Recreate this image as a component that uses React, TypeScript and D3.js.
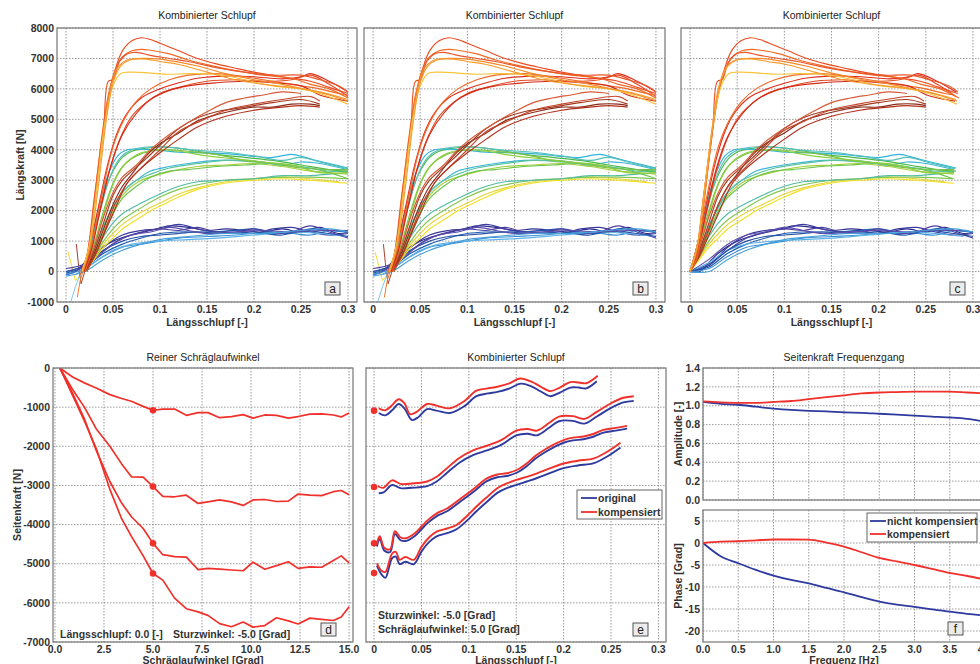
import React, { useEffect, useRef } from "react";
import * as d3 from "d3";

type Pt = [number, number];

// ---- tick labels
const slipTicks = [0, 0.05, 0.1, 0.15, 0.2, 0.25, 0.3];
const longForceTicks = [-1000, 0, 1000, 2000, 3000, 4000, 5000, 6000, 7000, 8000];
const angleTicks = [0, 2.5, 5, 7.5, 10, 12.5, 15];
const sideForceTicks = [-7000, -6000, -5000, -4000, -3000, -2000, -1000, 0];
const freqTicks = [0, 0.5, 1, 1.5, 2, 2.5, 3, 3.5, 4];
const ampTicks = [0, 0.2, 0.4, 0.6, 0.8, 1.0, 1.2, 1.4];
const phaseTicks = [-20, -15, -10, -5, 0, 5];

// ---- top row: Längskraft over Längsschlupf, runs grouped by load level
const peakColors = ["#ec4b22", "#f06a24", "#e9562a", "#f38a2a", "#f7c43c", "#f49d2e"];
const peakCurves: Pt[][] = [
  [[0.016, 0], [0.022, 500], [0.03, 2400], [0.038, 4300], [0.045, 5700], [0.052, 6600], [0.06, 7250], [0.07, 7580], [0.08, 7680], [0.09, 7620], [0.1, 7500], [0.12, 7250], [0.14, 7000], [0.16, 6820], [0.18, 6680], [0.2, 6550], [0.22, 6450], [0.24, 6350], [0.26, 6250], [0.28, 6050], [0.3, 5850]],
  [[0.015, -100], [0.022, 400], [0.03, 2300], [0.038, 4400], [0.045, 5800], [0.052, 6600], [0.06, 7050], [0.07, 7250], [0.08, 7300], [0.09, 7270], [0.11, 7150], [0.13, 6950], [0.15, 6800], [0.18, 6600], [0.21, 6450], [0.24, 6350], [0.26, 6150], [0.28, 6000], [0.3, 5700]],
  [[0.016, 0], [0.023, 600], [0.03, 2200], [0.04, 4700], [0.045, 6250], [0.05, 6300], [0.057, 6900], [0.065, 7150], [0.075, 7200], [0.09, 7100], [0.11, 7000], [0.13, 6900], [0.16, 6700], [0.19, 6550], [0.22, 6450], [0.25, 6450], [0.27, 6300], [0.29, 6100], [0.3, 5900]],
  [[0.017, 0], [0.024, 700], [0.032, 2600], [0.04, 4600], [0.047, 6000], [0.055, 6700], [0.065, 6950], [0.08, 7000], [0.1, 6980], [0.12, 6880], [0.14, 6750], [0.17, 6500], [0.2, 6300], [0.23, 6150], [0.26, 5950], [0.28, 5800], [0.3, 5600]],
  [[0.017, 0], [0.025, 900], [0.033, 2800], [0.042, 5000], [0.05, 6100], [0.058, 6500], [0.07, 6550], [0.09, 6520], [0.11, 6480], [0.13, 6500], [0.16, 6480], [0.19, 6300], [0.22, 6100], [0.25, 6000], [0.27, 5850], [0.3, 5500]],
  [[0.018, 0], [0.026, 900], [0.034, 2700], [0.043, 5000], [0.05, 6200], [0.058, 6750], [0.068, 6950], [0.085, 6980], [0.1, 6900], [0.12, 6800], [0.15, 6550], [0.18, 6300], [0.21, 6150], [0.24, 6050], [0.27, 5900], [0.3, 5650]],
];

const plateauColors = ["#e02d1c", "#e44a22", "#f06a2a", "#d42a18"];
const plateauCurves: Pt[][] = [
  [[0.018, 0], [0.025, 800], [0.035, 2200], [0.045, 3600], [0.055, 4600], [0.065, 5200], [0.08, 5700], [0.1, 6000], [0.12, 6200], [0.14, 6350], [0.17, 6420], [0.2, 6400], [0.23, 6330], [0.25, 6400], [0.26, 6500], [0.28, 6250], [0.3, 5900]],
  [[0.018, 0], [0.026, 700], [0.036, 2000], [0.046, 3300], [0.058, 4400], [0.07, 5100], [0.085, 5550], [0.1, 5850], [0.12, 6050], [0.15, 6250], [0.18, 6300], [0.21, 6250], [0.24, 6300], [0.26, 6450], [0.28, 6150], [0.3, 5750]],
  [[0.02, 0], [0.028, 900], [0.038, 2500], [0.05, 4100], [0.062, 5000], [0.075, 5600], [0.09, 6000], [0.11, 6300], [0.13, 6450], [0.16, 6500], [0.19, 6400], [0.22, 6250], [0.25, 6100], [0.27, 6000], [0.29, 5850], [0.3, 5800]],
  [[0.019, 0], [0.027, 700], [0.037, 2100], [0.048, 3500], [0.06, 4500], [0.075, 5200], [0.09, 5650], [0.11, 5950], [0.13, 6100], [0.16, 6200], [0.19, 6250], [0.22, 6200], [0.25, 6100], [0.27, 5800], [0.29, 5650], [0.3, 5600]],
];

const slowColors = ["#8a2a18", "#a23a1e", "#c4452a", "#b0301c", "#d85a38"];
const slowCurves: Pt[][] = [
  [[0.02, 0], [0.03, 600], [0.04, 1400], [0.05, 2200], [0.06, 2800], [0.07, 3200], [0.08, 3600], [0.09, 3950], [0.1, 4200], [0.12, 4550], [0.14, 4950], [0.16, 5150], [0.18, 5300], [0.2, 5400], [0.22, 5400], [0.24, 5500], [0.26, 5500], [0.27, 5450]],
  [[0.02, 0], [0.03, 700], [0.04, 1600], [0.05, 2500], [0.06, 3000], [0.07, 3300], [0.085, 3700], [0.1, 4150], [0.12, 4700], [0.14, 5050], [0.16, 5250], [0.18, 5350], [0.2, 5450], [0.22, 5550], [0.25, 5650], [0.27, 5500]],
  [[0.022, 0], [0.032, 600], [0.042, 1400], [0.052, 2200], [0.065, 2900], [0.08, 3400], [0.1, 4000], [0.12, 4600], [0.14, 4900], [0.17, 5300], [0.2, 5500], [0.23, 5650], [0.26, 5750], [0.27, 5600]],
  [[0.02, 0], [0.03, 500], [0.04, 1200], [0.05, 1900], [0.065, 2900], [0.08, 3400], [0.1, 3900], [0.12, 4350], [0.14, 4750], [0.17, 5100], [0.2, 5300], [0.23, 5400], [0.25, 5450], [0.27, 5400]],
  [[0.02, 0], [0.03, 800], [0.04, 1800], [0.05, 2600], [0.06, 3100], [0.075, 3500], [0.09, 4000], [0.11, 4500], [0.13, 4900], [0.15, 5250], [0.17, 5550], [0.19, 5700], [0.21, 5800], [0.23, 5900], [0.25, 5850]],
];

const greenColors = ["#4db848", "#2fb4dc", "#79c143", "#55bfb8", "#8ccf3c"];
const greenCurves: Pt[][] = [
  [[0.018, 0], [0.025, 700], [0.033, 1700], [0.042, 2700], [0.05, 3300], [0.06, 3750], [0.07, 3950], [0.085, 4050], [0.1, 4100], [0.12, 4050], [0.14, 3950], [0.16, 3850], [0.19, 3750], [0.22, 3650], [0.25, 3500], [0.28, 3350], [0.3, 3300]],
  [[0.018, 0], [0.026, 900], [0.035, 2100], [0.045, 3200], [0.055, 3800], [0.065, 4000], [0.08, 4020], [0.1, 3980], [0.12, 3920], [0.15, 3900], [0.18, 3850], [0.2, 3780], [0.22, 3750], [0.24, 3850], [0.26, 3700], [0.28, 3550], [0.3, 3400]],
  [[0.02, 0], [0.03, 900], [0.04, 2000], [0.05, 2900], [0.06, 3450], [0.075, 3800], [0.09, 3950], [0.11, 4000], [0.13, 3950], [0.16, 3850], [0.19, 3650], [0.22, 3550], [0.25, 3400], [0.28, 3350], [0.3, 3350]],
  [[0.019, 0], [0.028, 1000], [0.038, 2200], [0.048, 3200], [0.058, 3750], [0.07, 4000], [0.09, 4100], [0.11, 4080], [0.14, 3980], [0.17, 3920], [0.2, 3800], [0.23, 3650], [0.25, 3750], [0.27, 3600], [0.3, 3380]],
  [[0.02, 0], [0.03, 800], [0.042, 2100], [0.052, 3000], [0.065, 3600], [0.08, 3900], [0.1, 4000], [0.12, 3950], [0.15, 3800], [0.18, 3700], [0.21, 3600], [0.24, 3500], [0.27, 3250], [0.3, 3250]],
];

const cyanColors = ["#a6d03a", "#3cb6d6", "#6cc44a", "#5cc2a0"];
const cyanCurves: Pt[][] = [
  [[0.02, 0], [0.03, 600], [0.04, 1300], [0.05, 2000], [0.06, 2500], [0.07, 2800], [0.08, 3000], [0.1, 3200], [0.12, 3350], [0.14, 3450], [0.17, 3500], [0.2, 3550], [0.23, 3450], [0.26, 3300], [0.28, 3250], [0.3, 3200]],
  [[0.02, 0], [0.03, 700], [0.04, 1500], [0.05, 2100], [0.06, 2600], [0.075, 3000], [0.09, 3300], [0.11, 3450], [0.13, 3550], [0.16, 3650], [0.19, 3650], [0.21, 3600], [0.23, 3500], [0.25, 3600], [0.27, 3550], [0.3, 3350]],
  [[0.021, 0], [0.032, 600], [0.045, 1600], [0.06, 2400], [0.075, 2800], [0.09, 3100], [0.11, 3300], [0.13, 3350], [0.16, 3450], [0.19, 3500], [0.22, 3550], [0.25, 3450], [0.28, 3250], [0.3, 3050]],
  [[0.02, 0], [0.03, 700], [0.04, 1500], [0.055, 2400], [0.07, 2900], [0.09, 3200], [0.11, 3400], [0.14, 3550], [0.17, 3650], [0.2, 3600], [0.23, 3500], [0.26, 3400], [0.28, 3300], [0.3, 3300]],
];

const yellowColors = ["#f2e024", "#e6d43a", "#80c74e", "#52bca4"];
const yellowCurves: Pt[][] = [
  [[0.02, 0], [0.03, 400], [0.04, 800], [0.05, 1100], [0.06, 1400], [0.07, 1600], [0.08, 1800], [0.09, 2000], [0.1, 2150], [0.12, 2450], [0.14, 2700], [0.16, 2850], [0.18, 2950], [0.2, 3000], [0.23, 3050], [0.26, 3000], [0.28, 2950], [0.3, 2900]],
  [[0.02, 0], [0.03, 450], [0.04, 900], [0.05, 1250], [0.06, 1550], [0.08, 1950], [0.1, 2250], [0.12, 2550], [0.14, 2750], [0.17, 2950], [0.2, 3050], [0.23, 3100], [0.26, 3050], [0.29, 2950]],
  [[0.02, 0], [0.03, 500], [0.04, 1000], [0.05, 1400], [0.06, 1700], [0.08, 2100], [0.1, 2450], [0.12, 2700], [0.14, 2850], [0.17, 3000], [0.2, 3050], [0.23, 3100], [0.26, 3100], [0.3, 3050]],
  [[0.02, 0], [0.03, 600], [0.04, 1150], [0.05, 1600], [0.06, 1900], [0.08, 2250], [0.1, 2550], [0.12, 2800], [0.14, 2950], [0.17, 3000], [0.2, 3050], [0.23, 3150], [0.26, 3150], [0.28, 3200], [0.3, 3250]],
];

const blueColors = ["#2a2c8c", "#3b3a9e", "#1f5cb0", "#4d3fa0", "#3b8fd2", "#5ab2e8", "#2450a6", "#5c4cab", "#47a0d8"];
const blueCurves: Pt[][] = [
  [[0, -100], [0.01, 0], [0.02, 300], [0.03, 600], [0.05, 1000], [0.07, 1200], [0.09, 1350], [0.11, 1500], [0.13, 1450], [0.15, 1350], [0.17, 1400], [0.19, 1350], [0.21, 1300], [0.23, 1400], [0.25, 1300], [0.27, 1450], [0.29, 1250], [0.3, 1300]],
  [[0, 0], [0.02, 200], [0.04, 800], [0.06, 1200], [0.08, 1350], [0.1, 1400], [0.12, 1550], [0.14, 1400], [0.16, 1300], [0.18, 1350], [0.2, 1250], [0.22, 1400], [0.24, 1450], [0.26, 1300], [0.28, 1200], [0.3, 1250]],
  [[0, -50], [0.02, 150], [0.04, 600], [0.06, 900], [0.08, 1100], [0.1, 1250], [0.12, 1300], [0.15, 1300], [0.18, 1350], [0.2, 1400], [0.22, 1300], [0.24, 1250], [0.26, 1400], [0.28, 1350], [0.3, 1300]],
  [[0, 100], [0.02, 250], [0.04, 700], [0.06, 1100], [0.08, 1300], [0.1, 1400], [0.12, 1350], [0.14, 1450], [0.16, 1300], [0.18, 1300], [0.2, 1400], [0.22, 1250], [0.24, 1300], [0.26, 1500], [0.28, 1300], [0.3, 1100]],
  [[0, -100], [0.02, 100], [0.04, 500], [0.06, 800], [0.08, 900], [0.1, 1000], [0.12, 1100], [0.15, 1150], [0.18, 1200], [0.2, 1250], [0.23, 1300], [0.26, 1200], [0.28, 1350], [0.3, 1300]],
  [[0.01, -100], [0.03, 300], [0.05, 700], [0.07, 900], [0.1, 1000], [0.13, 1050], [0.16, 1100], [0.2, 1200], [0.24, 1300], [0.27, 1250], [0.3, 1150]],
  [[0, 0], [0.02, 200], [0.04, 700], [0.06, 1000], [0.08, 1150], [0.1, 1200], [0.12, 1250], [0.14, 1300], [0.17, 1250], [0.2, 1300], [0.23, 1200], [0.25, 1350], [0.28, 1250], [0.3, 1150]],
  [[0.01, 0], [0.03, 400], [0.05, 900], [0.07, 1200], [0.09, 1300], [0.11, 1450], [0.13, 1350], [0.15, 1250], [0.18, 1300], [0.21, 1350], [0.24, 1300], [0.27, 1350], [0.3, 1350]],
  [[0, -150], [0.02, 0], [0.04, 400], [0.06, 700], [0.08, 900], [0.1, 1050], [0.13, 1150], [0.17, 1250], [0.21, 1250], [0.25, 1350], [0.28, 1400], [0.3, 1300]],
];

// stray start-up traces near the origin (only in a and b)
const noiseColors = ["#f2dc2a", "#7cc8ec", "#a8402a", "#f07a2a"];
const noiseCurves: Pt[][] = [
  [[0.002, 650], [0.006, 200], [0.01, -300], [0.014, -150]],
  [[0.005, -1000], [0.01, -500], [0.015, -100], [0.02, 100]],
  [[0.011, 900], [0.013, 300], [0.016, -400], [0.02, 0]],
  [[0.012, -850], [0.015, -300], [0.019, 100]],
];

// ---- d: Seitenkraft over Schräglaufwinkel
const slipAngles = [0.25, 0.9, 1.5, 2.1, 2.8, 3.4, 3.9, 4.5, 5.0, 5.5, 6.1, 6.7, 7.3, 7.8, 8.4, 9.0, 9.6, 10.1, 10.7, 11.3, 11.9, 12.4, 13.0, 13.6, 14.2, 14.6, 15.0];
const sideForce1 = [0, -230, -380, -510, -680, -780, -850, -980, -1080, -1050, -1050, -1210, -1140, -1140, -1270, -1240, -1190, -1280, -1200, -1210, -1280, -1240, -1180, -1170, -1200, -1250, -1150];
const sideForce2 = [0, -550, -1000, -1550, -2000, -2450, -2780, -2790, -3030, -3280, -3290, -3250, -3460, -3420, -3370, -3420, -3510, -3370, -3360, -3410, -3400, -3220, -3250, -3260, -3160, -3130, -3240];
const sideForce3 = [0, -650, -1300, -2100, -2900, -3450, -3800, -4100, -4480, -4770, -4820, -4830, -5150, -5120, -5140, -5160, -5180, -4960, -5140, -5050, -4950, -5120, -5080, -5090, -4920, -4800, -4980];
const sideForce4 = [0, -700, -1350, -2050, -3100, -3850, -4300, -4800, -5250, -5420, -5880, -6150, -6230, -6320, -6530, -6610, -6490, -6620, -6580, -6380, -6460, -6540, -6390, -6420, -6450, -6360, -6100];
const markedAngle = 5.0;

// ---- e: combined slip at 5° slip angle
const compensatedRuns: Pt[][] = [
  [[0.005, -1030], [0.012, -1080], [0.019, -950], [0.026, -800], [0.032, -900], [0.038, -1180], [0.045, -1120], [0.056, -920], [0.066, -960], [0.08, -1030], [0.095, -850], [0.108, -580], [0.12, -520], [0.13, -480], [0.142, -400], [0.154, -270], [0.166, -350], [0.176, -480], [0.186, -590], [0.196, -500], [0.207, -360], [0.216, -370], [0.224, -390], [0.236, -200]],
  [[0.004, -3020], [0.01, -3060], [0.019, -2870], [0.028, -2960], [0.04, -2950], [0.056, -2900], [0.066, -2780], [0.075, -2600], [0.09, -2300], [0.105, -2100], [0.12, -1980], [0.135, -1830], [0.15, -1600], [0.162, -1560], [0.172, -1600], [0.185, -1400], [0.195, -1240], [0.21, -1230], [0.222, -1300], [0.235, -1120], [0.25, -900], [0.263, -760], [0.274, -720]],
  [[0.003, -4490], [0.006, -4300], [0.011, -4600], [0.017, -4630], [0.022, -4170], [0.028, -4330], [0.033, -4350], [0.043, -4220], [0.05, -4050], [0.057, -3880], [0.067, -3700], [0.077, -3590], [0.094, -3290], [0.107, -3050], [0.119, -2820], [0.13, -2720], [0.14, -2690], [0.151, -2600], [0.161, -2440], [0.17, -2250], [0.179, -2100], [0.19, -1950], [0.2, -1840], [0.21, -1780], [0.221, -1750], [0.232, -1680], [0.242, -1580], [0.255, -1530], [0.267, -1480]],
  [[0.003, -4990], [0.008, -5180], [0.012, -5210], [0.019, -4740], [0.023, -4700], [0.027, -4900], [0.033, -4830], [0.042, -4900], [0.05, -4570], [0.058, -4330], [0.066, -4180], [0.077, -4100], [0.087, -4010], [0.098, -3780], [0.108, -3540], [0.12, -3280], [0.13, -3070], [0.14, -2950], [0.15, -2860], [0.161, -2780], [0.172, -2690], [0.186, -2560], [0.2, -2440], [0.215, -2370], [0.232, -2310], [0.246, -2140], [0.26, -1910]],
];
const originalRuns: Pt[][] = [
  [[0.005, -1150], [0.012, -1210], [0.019, -1080], [0.026, -920], [0.032, -1030], [0.04, -1330], [0.047, -1250], [0.056, -1050], [0.066, -1090], [0.08, -1150], [0.095, -980], [0.108, -720], [0.12, -650], [0.13, -610], [0.142, -530], [0.155, -400], [0.166, -470], [0.176, -600], [0.186, -720], [0.196, -630], [0.207, -500], [0.216, -500], [0.224, -520], [0.235, -340]],
  [[0.005, -3200], [0.01, -3180], [0.019, -2990], [0.028, -3070], [0.04, -3060], [0.056, -3020], [0.066, -2900], [0.075, -2720], [0.09, -2420], [0.105, -2220], [0.12, -2100], [0.135, -1950], [0.15, -1720], [0.162, -1680], [0.172, -1720], [0.185, -1520], [0.195, -1360], [0.21, -1350], [0.222, -1420], [0.235, -1240], [0.25, -1020], [0.263, -880], [0.274, -840]],
  [[0.003, -4560], [0.006, -4370], [0.011, -4670], [0.017, -4700], [0.022, -4240], [0.028, -4400], [0.033, -4420], [0.043, -4290], [0.05, -4120], [0.057, -3950], [0.067, -3770], [0.077, -3660], [0.094, -3360], [0.107, -3120], [0.119, -2890], [0.13, -2790], [0.14, -2760], [0.151, -2670], [0.161, -2510], [0.17, -2320], [0.179, -2170], [0.19, -2020], [0.2, -1910], [0.21, -1850], [0.221, -1820], [0.232, -1750], [0.242, -1650], [0.255, -1600], [0.267, -1550]],
  [[0.003, -5050], [0.008, -5280], [0.012, -5360], [0.019, -4860], [0.023, -4820], [0.027, -5010], [0.033, -4950], [0.042, -5010], [0.05, -4690], [0.058, -4450], [0.066, -4300], [0.077, -4220], [0.087, -4120], [0.098, -3900], [0.108, -3660], [0.12, -3400], [0.13, -3190], [0.14, -3070], [0.151, -2980], [0.161, -2900], [0.172, -2810], [0.186, -2680], [0.2, -2560], [0.215, -2490], [0.232, -2430], [0.246, -2260], [0.26, -2030]],
];
const startForces = [-1090, -3040, -4480, -5240];

// ---- f: frequency response
const freqs = [0, 0.25, 0.5, 0.75, 1, 1.25, 1.5, 1.75, 2, 2.25, 2.5, 2.75, 3, 3.25, 3.5, 3.75, 4];
const ampCompensated = [1.045, 1.035, 1.03, 1.03, 1.04, 1.05, 1.07, 1.09, 1.11, 1.13, 1.14, 1.145, 1.15, 1.15, 1.15, 1.14, 1.13];
const ampOriginal = [1.04, 1.02, 1.01, 0.99, 0.97, 0.955, 0.945, 0.94, 0.93, 0.925, 0.915, 0.905, 0.895, 0.885, 0.875, 0.86, 0.83];
const phaseCompensated = [0, 0.3, 0.4, 0.6, 0.8, 0.8, 0.75, 0.1, -0.8, -2.1, -3.4, -4.2, -5.0, -5.9, -6.8, -7.5, -8.3];
const phaseOriginal = [0, -3.0, -4.6, -6.1, -7.4, -8.4, -9.2, -10.2, -11.2, -12.3, -13.3, -14.0, -14.5, -15.1, -15.6, -16.1, -16.5];

const FONT = "'Liberation Sans', Arial, Helvetica, sans-serif";
const RED = "#f0302a";
const BLUE = "#2e3a9e";

const slipFmt = (v: number) => String(+v.toFixed(2));
const oneDec = (v: number) => v.toFixed(1);
const plain = (v: number) => String(v);

const App = () => {
  const svgRef = useRef(null);

  useEffect(() => {
    const svg = d3.select(svgRef.current);
    svg.selectAll("*").remove();

    const makePanel = (s) => {
      const x = d3.scaleLinear().domain(s.xd).range([s.left, s.right]);
      const y = d3.scaleLinear().domain(s.yd).range([s.bottom, s.top]);
      const g = svg.append("g");
      g.append("clipPath").attr("id", `clip-${s.id}`)
        .append("rect")
        .attr("x", s.left).attr("y", s.top)
        .attr("width", s.right - s.left).attr("height", s.bottom - s.top);
      g.append("rect")
        .attr("x", s.left).attr("y", s.top)
        .attr("width", s.right - s.left).attr("height", s.bottom - s.top)
        .attr("fill", "#fff");
      const grid = g.append("g").attr("stroke", "#8e8e8e").attr("stroke-width", 0.9).attr("stroke-dasharray", "1.5,1.5");
      grid.selectAll(null).data(s.xt).join("line")
        .attr("x1", d => x(d)).attr("x2", d => x(d))
        .attr("y1", s.top).attr("y2", s.bottom);
      grid.selectAll(null).data(s.yt).join("line")
        .attr("x1", s.left).attr("x2", s.right)
        .attr("y1", d => y(d)).attr("y2", d => y(d));
      if (s.xf) {
        g.append("g").selectAll("text").data(s.xt).join("text")
          .attr("x", d => x(d)).attr("y", s.bottom + s.xOff)
          .attr("text-anchor", "middle")
          .attr("font-family", FONT).attr("font-size", 10.5).attr("font-weight", "bold").attr("fill", "#333")
          .text(d => s.xf(d));
      }
      if (s.yf) {
        g.append("g").selectAll("text").data(s.yt).join("text")
          .attr("x", s.left - 3).attr("y", d => y(d)).attr("dy", "0.36em")
          .attr("text-anchor", "end")
          .attr("font-family", FONT).attr("font-size", 10.5).attr("font-weight", "bold").attr("fill", "#333")
          .text(d => s.yf(d));
      }
      const plot = g.append("g").attr("clip-path", `url(#clip-${s.id})`);
      g.append("rect")
        .attr("x", s.left).attr("y", s.top)
        .attr("width", s.right - s.left).attr("height", s.bottom - s.top)
        .attr("fill", "none").attr("stroke", "#777").attr("stroke-width", 1.2);
      return { x, y, plot, g };
    };

    const text = (x, y, str, opts: any = {}) => {
      const t = svg.append("text")
        .attr("x", x).attr("y", y)
        .attr("font-family", FONT)
        .attr("font-size", opts.size || 10.5)
        .attr("font-weight", opts.weight || "normal")
        .attr("fill", opts.fill || "#222")
        .attr("text-anchor", opts.anchor || "start")
        .text(str);
      if (opts.rotate) t.attr("transform", `rotate(-90 ${x} ${y})`);
      return t;
    };

    const tag = (x, y, letter) => {
      svg.append("rect").attr("x", x).attr("y", y).attr("width", 15).attr("height", 13)
        .attr("fill", "#ececec").attr("stroke", "#555").attr("stroke-width", 1);
      text(x + 7.5, y + 10.5, letter, { size: 12, anchor: "middle", fill: "#222" });
    };

    const drawLine = (p, pts: Pt[], color: string, width: number, curve) => {
      const line = d3.line<Pt>().x(d => p.x(d[0])).y(d => p.y(d[1])).curve(curve);
      p.plot.append("path").datum(pts)
        .attr("d", line)
        .attr("fill", "none")
        .attr("stroke", color)
        .attr("stroke-width", width)
        .attr("stroke-linejoin", "round");
    };

    // ---------- top row
    const groups: [Pt[][], string[]][] = [
      [blueCurves, blueColors],
      [yellowCurves, yellowColors],
      [cyanCurves, cyanColors],
      [greenCurves, greenColors],
      [slowCurves, slowColors],
      [plateauCurves, plateauColors],
      [peakCurves, peakColors],
    ];
    const toOrigin = (pts: Pt[]): Pt[] => {
      const x0 = pts[0][0];
      return pts.map(([px, py], i) => [px - x0, i === 0 ? 0 : py] as Pt);
    };

    const topPanels = [
      { id: "a", left: 57, right: 357, letter: "a", showY: true, shift: false },
      { id: "b", left: 364, right: 665, letter: "b", showY: false, shift: false },
      { id: "c", left: 681, right: 982, letter: "c", showY: false, shift: true },
    ];
    topPanels.forEach(tp => {
      const p = makePanel({
        id: tp.id, left: tp.left, right: tp.right, top: 28, bottom: 302,
        xd: [-0.0096, 0.3096], yd: [-1000, 8000],
        xt: slipTicks, yt: longForceTicks,
        xf: slipFmt, yf: tp.showY ? plain : null, xOff: 10.5,
      });
      if (!tp.shift) {
        noiseCurves.forEach((c, i) => drawLine(p, c, noiseColors[i], 1, d3.curveLinear));
      }
      groups.forEach(([curves, colors]) => {
        curves.forEach((c, i) => {
          const pts = tp.shift ? toOrigin(c) : c;
          drawLine(p, pts, colors[i % colors.length], 1.15, d3.curveCatmullRom.alpha(0.5));
        });
      });
      const cx = (tp.left + tp.right) / 2;
      text(cx, 19, "Kombinierter Schlupf", { anchor: "middle", size: 10.5 });
      text(cx, 326, "Längsschlupf [-]", { anchor: "middle", size: 10.5, weight: "bold", fill: "#333" });
      tag(tp.right - 32, 282, tp.letter);
    });
    text(24, 165, "Längskraft [N]", { anchor: "middle", size: 10.5, weight: "bold", fill: "#333", rotate: true });

    // ---------- d
    const pd = makePanel({
      id: "d", left: 53, right: 353, top: 368, bottom: 642,
      xd: [-0.1, 15.2], yd: [-7000, 0],
      xt: angleTicks, yt: sideForceTicks, xf: oneDec, yf: plain, xOff: 10.5,
    });
    const markIdx = slipAngles.indexOf(markedAngle);
    [sideForce1, sideForce2, sideForce3, sideForce4].forEach(run => {
      const pts = slipAngles.map((a, i) => [a, run[i]] as Pt);
      drawLine(pd, pts, RED, 1.7, d3.curveLinear);
      pd.plot.append("circle")
        .attr("cx", pd.x(markedAngle)).attr("cy", pd.y(run[markIdx]))
        .attr("r", 3.3).attr("fill", RED);
    });
    text(203, 361, "Reiner Schräglaufwinkel", { anchor: "middle", size: 10.5 });
    text(203, 664, "Schräglaufwinkel [Grad]", { anchor: "middle", size: 10.5, weight: "bold", fill: "#333" });
    text(21, 505, "Seitenkraft [N]", { anchor: "middle", size: 10.5, weight: "bold", fill: "#333", rotate: true });
    text(60, 638, "Längsschlupf: 0.0 [-]", { size: 10.5, weight: "bold", fill: "#333" });
    text(173, 638, "Sturzwinkel: -5.0 [Grad]", { size: 10.5, weight: "bold", fill: "#333" });
    tag(321, 623, "d");

    // ---------- e
    const pe = makePanel({
      id: "e", left: 366, right: 666, top: 368, bottom: 642,
      xd: [-0.0085, 0.308], yd: [-7000, 0],
      xt: slipTicks, yt: sideForceTicks, xf: slipFmt, yf: null, xOff: 10.5,
    });
    originalRuns.forEach(r => drawLine(pe, r, BLUE, 1.9, d3.curveCatmullRom.alpha(0.5)));
    compensatedRuns.forEach(r => drawLine(pe, r, RED, 1.9, d3.curveCatmullRom.alpha(0.5)));
    startForces.forEach(f => {
      pe.plot.append("circle").attr("cx", pe.x(0)).attr("cy", pe.y(f)).attr("r", 3.3).attr("fill", RED);
    });
    text(516, 361, "Kombinierter Schlupf", { anchor: "middle", size: 10.5 });
    text(516, 664, "Längsschlupf [-]", { anchor: "middle", size: 10.5, weight: "bold", fill: "#333" });
    text(378, 619, "Sturzwinkel: -5.0 [Grad]", { size: 10.5, weight: "bold", fill: "#333" });
    text(378, 633, "Schräglaufwinkel: 5.0 [Grad]", { size: 10.5, weight: "bold", fill: "#333" });
    tag(633, 623, "e");
    // legend e
    svg.append("rect").attr("x", 577).attr("y", 490).attr("width", 85).attr("height", 29)
      .attr("fill", "#fff").attr("stroke", "#666").attr("stroke-width", 1);
    [["original", BLUE, 498], ["kompensiert", RED, 512]].forEach(([lbl, col, yy]: any) => {
      svg.append("line").attr("x1", 581).attr("x2", 597).attr("y1", yy).attr("y2", yy)
        .attr("stroke", col).attr("stroke-width", 1.8);
      text(598, yy + 4, lbl, { size: 10.5, weight: "bold", fill: "#333" });
    });

    // ---------- f
    const pa = makePanel({
      id: "fa", left: 703, right: 985, top: 368, bottom: 500,
      xd: [0, 4], yd: [0, 1.4],
      xt: freqTicks, yt: ampTicks, xf: null, yf: oneDec, xOff: 10.5,
    });
    drawLine(pa, freqs.map((f, i) => [f, ampOriginal[i]] as Pt), BLUE, 1.8, d3.curveMonotoneX);
    drawLine(pa, freqs.map((f, i) => [f, ampCompensated[i]] as Pt), RED, 1.8, d3.curveMonotoneX);

    const pp = makePanel({
      id: "fp", left: 703, right: 985, top: 510, bottom: 642,
      xd: [0, 4], yd: [-22.5, 7.5],
      xt: freqTicks, yt: phaseTicks, xf: oneDec, yf: plain, xOff: 10.5,
    });
    drawLine(pp, freqs.map((f, i) => [f, phaseOriginal[i]] as Pt), BLUE, 1.8, d3.curveMonotoneX);
    drawLine(pp, freqs.map((f, i) => [f, phaseCompensated[i]] as Pt), RED, 1.8, d3.curveMonotoneX);

    text(844, 361, "Seitenkraft Frequenzgang", { anchor: "middle", size: 10.5 });
    text(844, 664, "Frequenz [Hz]", { anchor: "middle", size: 10.5, weight: "bold", fill: "#333" });
    text(682, 434, "Amplitude [-]", { anchor: "middle", size: 10.5, weight: "bold", fill: "#333", rotate: true });
    text(682, 576, "Phase [Grad]", { anchor: "middle", size: 10.5, weight: "bold", fill: "#333", rotate: true });
    tag(948, 622, "f");
    // legend f
    svg.append("rect").attr("x", 867).attr("y", 513).attr("width", 110).attr("height", 29)
      .attr("fill", "#fff").attr("stroke", "#666").attr("stroke-width", 1);
    [["nicht kompensiert", BLUE, 521], ["kompensiert", RED, 534]].forEach(([lbl, col, yy]: any) => {
      svg.append("line").attr("x1", 870).attr("x2", 886).attr("y1", yy).attr("y2", yy)
        .attr("stroke", col).attr("stroke-width", 1.8);
      text(887, yy + 4, lbl, { size: 10.5, weight: "bold", fill: "#333" });
    });
  }, []);

  return (
    <div style={{ position: "absolute", left: 0, top: 0, width: 980, height: 664, overflow: "hidden", background: "#fff" }}>
      <svg ref={svgRef} width={980} height={664} style={{ display: "block" }} />
    </div>
  );
};

export default App;
